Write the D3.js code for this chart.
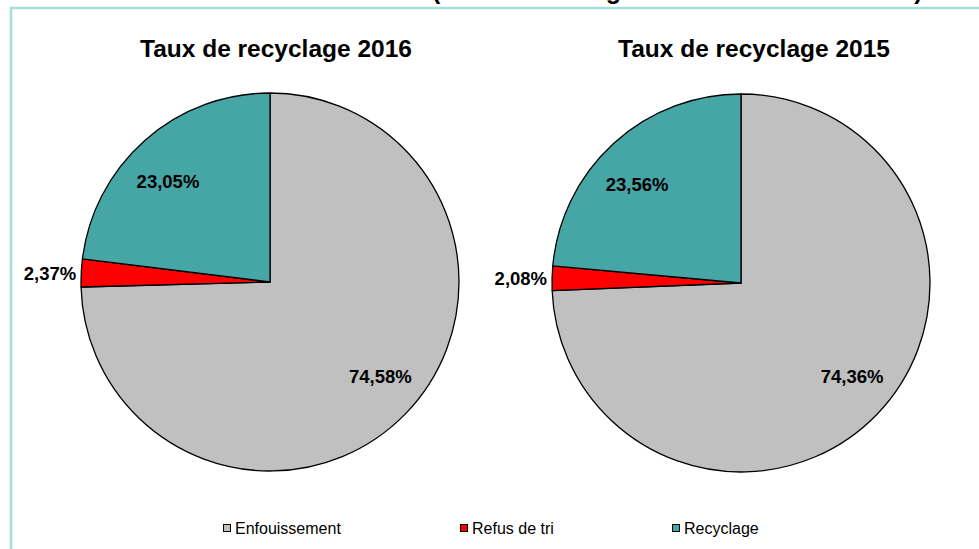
<!DOCTYPE html>
<html>
<head>
<meta charset="utf-8">
<script src="https://cdn.jsdelivr.net/npm/d3@7"></script>
<style>
  body { margin: 0; background: #fff; }
  svg { display: block; font-family: "Liberation Sans", Arial, sans-serif; }
</style>
</head>
<body>
<div id="chart"></div>
<script>
var categories = ["Enfouissement", "Refus de tri", "Recyclage"];
var colors = ["#c0c0c0", "#ff0000", "#46a6a6"];
var values2016 = [74.58, 2.37, 23.05];
var values2015 = [74.36, 2.08, 23.56];
var titles = ["Taux de recyclage 2016", "Taux de recyclage 2015"];
var pageTitle = "(ordures ménagères et collecte sélective)";

var width = 979, height = 549;

var svg = d3.select("#chart")
  .append("svg")
  .attr("width", width)
  .attr("height", height);

// frame of the chart area (runs off right and bottom)
svg.append("rect")
  .attr("x", 11)
  .attr("y", 8)
  .attr("width", 1000)
  .attr("height", 600)
  .attr("fill", "#fff")
  .attr("stroke", "#a9dcdc")
  .attr("stroke-width", 2.5);

// page title, mostly above the visible area
svg.append("text")
  .attr("x", 432)
  .attr("y", -1.5)
  .attr("font-size", 25)
  .attr("font-weight", "bold")
  .attr("fill", "#000")
  .text(pageTitle);

var pies = [
  { title: titles[0], values: values2016, cx: 270, cy: 282, tx: 276 },
  { title: titles[1], values: values2015, cx: 741, cy: 283, tx: 754 }
];

var r = 189;
var pie = d3.pie().sort(null).value(function(d) { return d; });
var arc = d3.arc().innerRadius(0).outerRadius(r);

pies.forEach(function(p) {
  svg.append("text")
    .attr("x", p.tx)
    .attr("y", 57)
    .attr("text-anchor", "middle")
    .attr("font-size", 24.5)
    .attr("font-weight", "bold")
    .text(p.title);

  var g = svg.append("g")
    .attr("transform", "translate(" + p.cx + "," + p.cy + ")");

  var arcs = pie(p.values);

  g.selectAll("path")
    .data(arcs)
    .enter()
    .append("path")
    .attr("d", arc)
    .attr("fill", function(d, i) { return colors[i]; })
    .attr("stroke", "#000")
    .attr("stroke-width", 1.3)
    .attr("stroke-linejoin", "round");

  g.selectAll("text.lbl")
    .data(arcs)
    .enter()
    .append("text")
    .attr("class", "lbl")
    .attr("font-size", 18.5)
    .attr("font-weight", "bold")
    .attr("fill", "#000")
    .each(function(d) {
      var a = (d.startAngle + d.endAngle) / 2;
      var t = d3.select(this);
      var lab = d3.format(".2f")(d.data).replace(".", ",") + "%";
      if (d.data < 5) {
        // small slice: label outside, to the left of the pie
        t.attr("x", (r + 5) * Math.sin(a))
         .attr("y", -(r) * Math.cos(a) + 7)
         .attr("text-anchor", "end");
      } else {
        t.attr("x", 0.815 * r * Math.sin(a))
         .attr("y", -0.71 * r * Math.cos(a) + 7)
         .attr("text-anchor", "middle");
      }
      t.text(lab);
    });
});

// legend
var legendX = [223, 460, 672];
var legend = svg.selectAll("g.legend")
  .data(categories)
  .enter()
  .append("g")
  .attr("class", "legend")
  .attr("transform", function(d, i) { return "translate(" + legendX[i] + ",528)"; });

legend.append("rect")
  .attr("x", 0.5)
  .attr("y", -3.5)
  .attr("width", 7)
  .attr("height", 7)
  .attr("fill", function(d, i) { return colors[i]; })
  .attr("stroke", "#000")
  .attr("stroke-width", 1);

legend.append("text")
  .attr("x", 12)
  .attr("y", 5.5)
  .attr("font-size", 16)
  .attr("fill", "#000")
  .text(function(d) { return d; });
</script>
</body>
</html>
